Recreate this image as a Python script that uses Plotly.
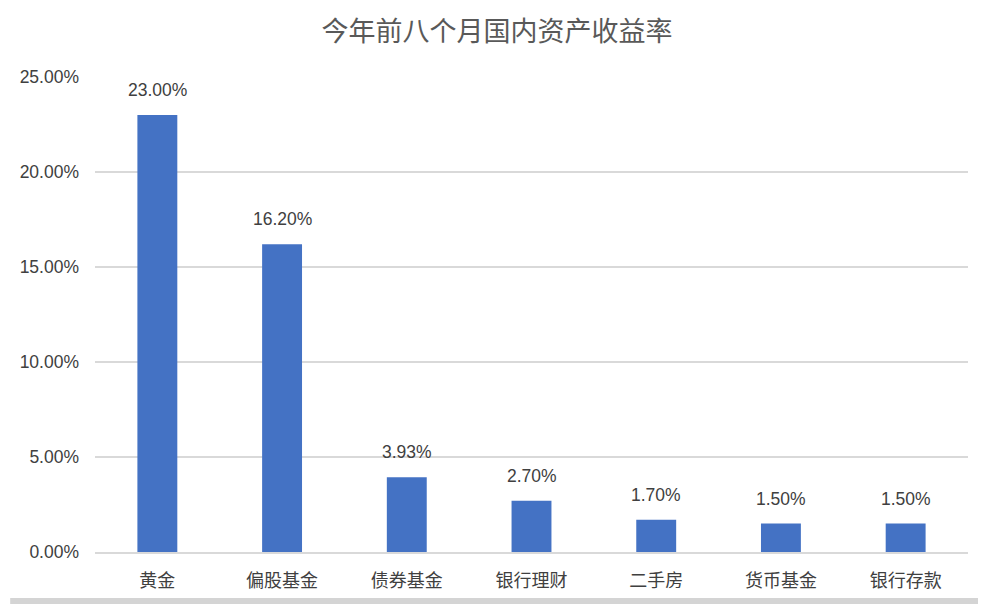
import plotly.graph_objects as go

categories = ["黄金", "偏股基金", "债券基金", "银行理财", "二手房", "货币基金", "银行存款"]
values = [0.23, 0.162, 0.0393, 0.027, 0.017, 0.015, 0.015]
title_text = "今年前八个月国内资产收益率"
y_ticks = [0, 0.05, 0.10, 0.15, 0.20, 0.25]

FONT = "Liberation Sans, Arial, Noto Sans CJK SC, sans-serif"
BAR_COLOR = "#4472C4"
TEXT_COLOR = "#404040"

fig = go.Figure()
fig.add_trace(go.Bar(
    x=categories, y=values,
    marker=dict(color=BAR_COLOR, line=dict(width=0)),
    hoverinfo="skip",
))

for c, v in zip(categories, values):
    fig.add_annotation(
        x=c, y=v, text=f"{v*100:.2f}%", showarrow=False,
        yanchor="bottom", yshift=13,
        font=dict(family=FONT, size=17.5, color=TEXT_COLOR),
    )

fig.update_layout(
    width=978, height=596,
    margin=dict(l=85, r=18, t=69, b=52),
    paper_bgcolor="white", plot_bgcolor="white",
    bargap=0.68,
    showlegend=False,
    title=dict(text=title_text, x=0.5, xref="container", xanchor="center",
               y=0.96, yref="container", yanchor="middle",
               font=dict(family=FONT, size=27, color="#595959")),
    font=dict(family=FONT, size=17.5, color=TEXT_COLOR),
    xaxis=dict(showgrid=False, showline=True, linecolor="#d9d9d9", linewidth=2,
               ticks="", tickfont=dict(size=18, color=TEXT_COLOR),
               ticklabelstandoff=11),
    yaxis=dict(range=[0, 0.25], tickvals=y_ticks, tickformat=".2%",
               showgrid=True, gridcolor="#d9d9d9", gridwidth=2,
               zeroline=False, showline=False, ticks="",
               tickfont=dict(size=17.5, color=TEXT_COLOR),
               ticklabelstandoff=15),
)

# screenshot border artifact at the bottom
fig.add_shape(type="rect", xref="paper", yref="paper",
              x0=-85/875, x1=1 + 18/875, y0=-52/475, y1=-46/475,
              fillcolor="#d4d4d4", line=dict(width=0))

fig.write_html("out.html")
